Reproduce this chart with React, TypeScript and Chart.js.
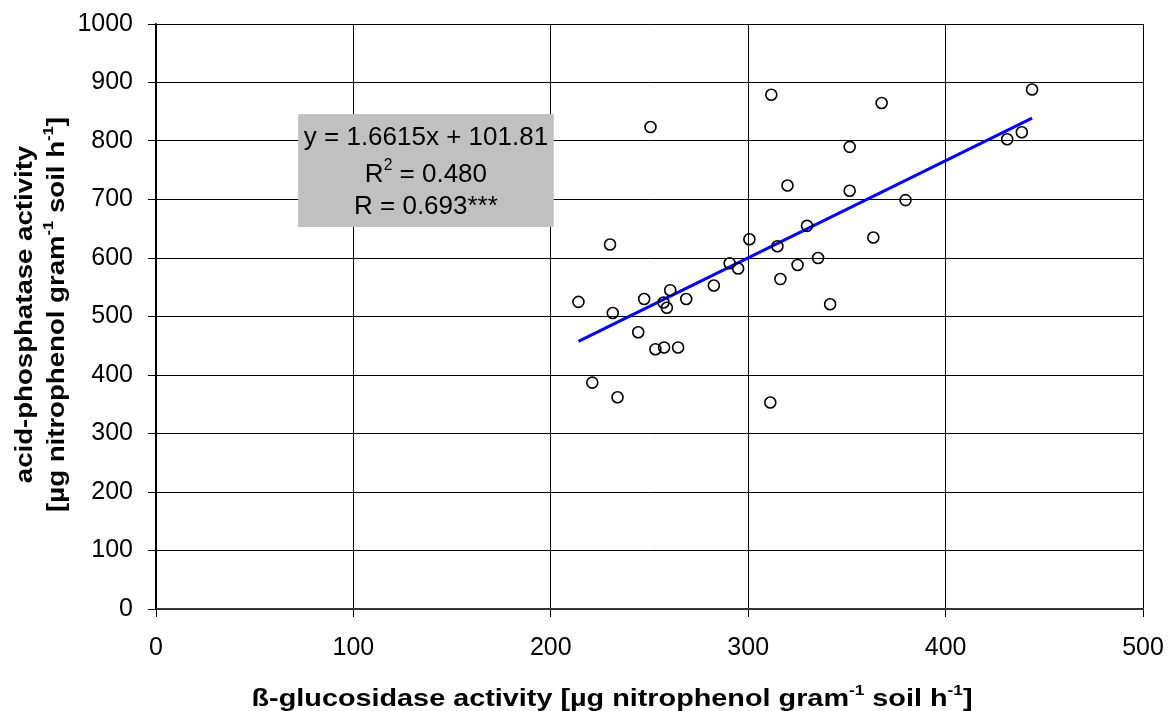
import React, { useEffect, useRef } from "react";
import { Chart, registerables } from "chart.js";

Chart.register(...registerables);

// ---- data ----
const glucosidase = [
  214, 221, 230, 231.4, 233.8, 244.3, 247.3, 250.5, 253, 257.1, 257.4, 258.8,
  260.5, 264.5, 268.6, 282.6, 290.6, 294.9, 300.6, 311.2, 311.7, 314.8, 316.3,
  319.9, 325, 329.8, 335.4, 341.5, 351.4, 351.4, 363.4, 367.6, 379.7, 431.2,
  438.6, 443.8,
];
const phosphatase = [
  525, 387, 623, 506, 362, 473, 530, 824, 444, 524, 447, 515,
  545, 447, 530, 553, 591, 582, 632, 353, 879, 620, 564,
  724, 588, 655, 600, 521, 790, 715, 635, 865, 699, 803,
  815, 888,
];
const slope = 1.6615;
const intercept = 101.81;
const rSquared = 0.48;
const rValue = 0.693;
const xTickValues = [0, 100, 200, 300, 400, 500];
const yTickValues = [0, 100, 200, 300, 400, 500, 600, 700, 800, 900, 1000];
const xTitle = [
  { t: "ß-glucosidase activity [µg nitrophenol gram" },
  { t: "-1", sup: true },
  { t: " soil h" },
  { t: "-1", sup: true },
  { t: "]" },
];
const yTitle1 = [{ t: "acid-phosphatase activity" }];
const yTitle2 = [
  { t: "[µg nitrophenol gram" },
  { t: "-1", sup: true },
  { t: " soil h" },
  { t: "-1", sup: true },
  { t: "]" },
];
// equation box extent in data units
const boxX = [72, 201.5];
const boxY = [653, 846];

const FAMILY = "'Liberation Sans', Arial, Helvetica, sans-serif";

type Seg = { t: string; sup?: boolean };

function drawRich(
  ctx: CanvasRenderingContext2D,
  segs: Seg[],
  size: number,
  weight: string,
  stretch: number
) {
  const font = (s: number) => `${weight} ${s}px ${FAMILY}`;
  const supSize = size * 0.6;
  let total = 0;
  const widths = segs.map((sg) => {
    ctx.font = font(sg.sup ? supSize : size);
    const w = ctx.measureText(sg.t).width;
    total += w;
    return w;
  });
  ctx.save();
  ctx.scale(stretch, 1);
  ctx.textAlign = "left";
  ctx.textBaseline = "alphabetic";
  ctx.fillStyle = "#000";
  let x = -total / 2;
  segs.forEach((sg, i) => {
    ctx.font = font(sg.sup ? supSize : size);
    ctx.fillText(sg.t, x, sg.sup ? -size * 0.45 : 0);
    x += widths[i];
  });
  ctx.restore();
}

const annotPlugin = {
  id: "annotations",
  beforeDatasetsDraw(chart: any) {
    const ctx: CanvasRenderingContext2D = chart.ctx;
    const xs = chart.scales.x;
    const ys = chart.scales.y;
    const l = xs.getPixelForValue(boxX[0]);
    const r = xs.getPixelForValue(boxX[1]);
    const t = ys.getPixelForValue(boxY[1]);
    const b = ys.getPixelForValue(boxY[0]);
    ctx.save();
    ctx.fillStyle = "#c0c0c0";
    ctx.fillRect(l, t, r - l, b - t);
    const cx = (l + r) / 2;
    const lines: Seg[][] = [
      [{ t: `y = ${slope}x + ${intercept}` }],
      [{ t: "R" }, { t: "2", sup: true }, { t: ` = ${rSquared.toFixed(3)}` }],
      [{ t: `R = ${rValue.toFixed(3)}***` }],
    ];
    const offs = [31, 68, 100];
    lines.forEach((ln, i) => {
      ctx.save();
      ctx.translate(cx, t + offs[i]);
      drawRich(ctx, ln, 26, "normal", 1);
      ctx.restore();
    });
    ctx.restore();
  },
  afterDraw(chart: any) {
    const ctx: CanvasRenderingContext2D = chart.ctx;
    const area = chart.chartArea;
    // x title
    ctx.save();
    ctx.translate(612, 706);
    drawRich(ctx, xTitle, 24, "bold", 1.2);
    ctx.restore();
    // y title (two lines, rotated)
    const cy = (area.top + area.bottom) / 2 - 2;
    ctx.save();
    ctx.translate(32, cy);
    ctx.rotate(-Math.PI / 2);
    drawRich(ctx, yTitle1, 24, "bold", 1.15);
    ctx.restore();
    ctx.save();
    ctx.translate(64, cy);
    ctx.rotate(-Math.PI / 2);
    drawRich(ctx, yTitle2, 24, "bold", 1.15);
    ctx.restore();
  },
};

export default function App() {
  const canvasRef = useRef<HTMLCanvasElement | null>(null);

  useEffect(() => {
    if (!canvasRef.current) return;
    const points = glucosidase.map((x, i) => ({ x, y: phosphatase[i] }));
    const xMin = Math.min(...glucosidase);
    const xMax = Math.max(...glucosidase);
    const trend = [
      { x: xMin, y: slope * xMin + intercept },
      { x: xMax, y: slope * xMax + intercept },
    ];
    const tickFont = { family: FAMILY, size: 25 };
    const chart = new Chart(canvasRef.current, {
      type: "scatter",
      data: {
        datasets: [
          {
            type: "scatter",
            data: points,
            pointStyle: "circle",
            pointRadius: 5.5,
            borderColor: "#000",
            borderWidth: 1.6,
            backgroundColor: "rgba(0,0,0,0)",
            order: 0,
          } as any,
          {
            type: "line",
            data: trend,
            borderColor: "#0000ff",
            borderWidth: 3,
            pointRadius: 0,
            fill: false,
            order: 1,
          } as any,
        ],
      },
      options: {
        responsive: false,
        maintainAspectRatio: false,
        animation: false,
        devicePixelRatio: 1,
        layout: { padding: { top: 24, right: 31, left: 0, bottom: 0 } },
        plugins: {
          legend: { display: false },
          tooltip: { enabled: false },
          title: { display: false },
        },
        scales: {
          x: {
            type: "linear",
            min: 0,
            max: 500,
            afterBuildTicks: (s: any) => {
              s.ticks = xTickValues.map((v) => ({ value: v }));
            },
            ticks: {
              color: "#000",
              font: tickFont,
              padding: 16,
              maxRotation: 0,
              autoSkip: false,
              callback: (v: any) => String(v),
            },
            grid: { color: "#000", lineWidth: 1, tickLength: 8 },
            border: { color: "#333", width: 2 },
            afterFit: (s: any) => {
              s.height = 102;
              s.paddingLeft = 0;
              s.paddingRight = 0;
            },
          },
          y: {
            type: "linear",
            min: 0,
            max: 1000,
            afterBuildTicks: (s: any) => {
              s.ticks = yTickValues.map((v) => ({ value: v }));
            },
            ticks: {
              color: "#000",
              font: tickFont,
              padding: 15,
              autoSkip: false,
              callback: (v: any) => String(v),
            },
            grid: { color: "#000", lineWidth: 1, tickLength: 8 },
            border: { color: "#000", width: 1.5 },
            afterFit: (s: any) => {
              s.width = 156;
              s.paddingTop = 0;
              s.paddingBottom = 0;
            },
          },
        },
      } as any,
      plugins: [annotPlugin],
    });
    return () => chart.destroy();
  }, []);

  return (
    <div
      style={{
        position: "fixed",
        left: 0,
        top: 0,
        width: 1174,
        height: 711,
        background: "#fff",
      }}
    >
      <canvas
        ref={canvasRef}
        width={1174}
        height={711}
        style={{ width: 1174, height: 711, display: "block" }}
      />
    </div>
  );
}
